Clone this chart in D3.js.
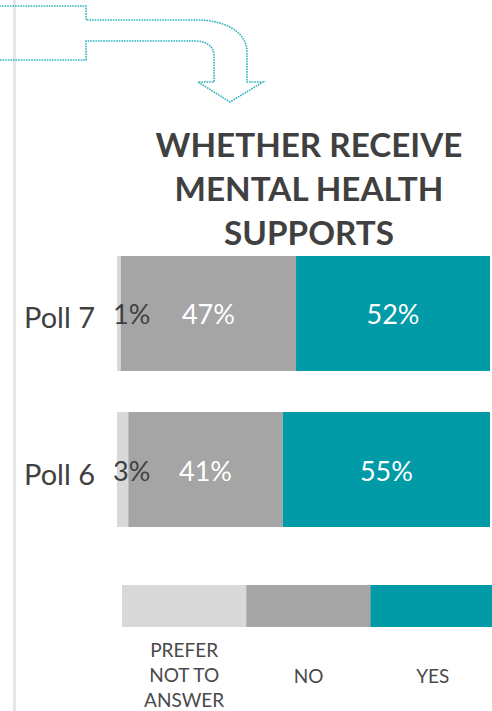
<!DOCTYPE html>
<html>
<head>
<meta charset="utf-8">
<script src="https://cdn.jsdelivr.net/npm/d3@7"></script>
<style>
  html, body { margin: 0; padding: 0; background: #fff; overflow: hidden; }
  svg { display: block; font-family: "Source Sans Pro", "Lato", "Noto Sans", sans-serif; }
</style>
</head>
<body>
<svg id="chart" width="492" height="711"></svg>
<script>
// Survey responses per poll (percent)
const polls = ["Poll 7", "Poll 6"];
const preferNot = [1, 3];
const no = [47, 41];
const yes = [52, 55];
const categories = ["PREFER NOT TO ANSWER", "NO", "YES"];
const keys = ["preferNot", "no", "yes"];
const colors = ["#d9d9d9", "#a5a5a5", "#019aa7"];
const titleLines = ["WHETHER RECEIVE", "MENTAL HEALTH", "SUPPORTS"];

const svg = d3.select("#chart");
const W = 492, H = 711;

// left rule
svg.append("rect").attr("x", 13).attr("y", 0).attr("width", 3).attr("height", H).attr("fill", "#e6e6e6");

// dotted flow arrow
const arrowPath = d3.path();
arrowPath.moveTo(0, 60);
arrowPath.lineTo(86, 60);
arrowPath.lineTo(86, 41);
arrowPath.lineTo(195, 41);
arrowPath.bezierCurveTo(206, 41, 214, 46, 214, 56);
arrowPath.lineTo(214, 82);
arrowPath.lineTo(198, 82);
arrowPath.lineTo(230, 102);
arrowPath.lineTo(263, 82);
arrowPath.lineTo(247, 82);
arrowPath.lineTo(247, 52);
arrowPath.bezierCurveTo(247, 32, 225, 20, 197, 20);
arrowPath.lineTo(86, 20);
arrowPath.lineTo(86, 6);
arrowPath.lineTo(0, 6);
svg.append("path")
  .attr("d", arrowPath.toString())
  .attr("fill", "none")
  .attr("stroke", "#2fb2bc")
  .attr("stroke-width", 1.6)
  .attr("stroke-dasharray", "1.6,1");

// title
const title = svg.append("text")
  .attr("text-anchor", "middle")
  .attr("fill", "#404040")
  .attr("font-weight", 700)
  .attr("font-size", 37);
title.selectAll("tspan").data(titleLines).join("tspan")
  .attr("x", 309)
  .attr("y", (d, i) => 157 + i * 44)
  .text(d => d);
// fit first line to its width
const t0 = title.select("tspan").node().getComputedTextLength();
title.attr("font-size", 37 * 307 / t0);

// stacked data
const rows = polls.map((p, i) => ({ poll: p, preferNot: preferNot[i], no: no[i], yes: yes[i] }));
const series = d3.stack().keys(keys).offset(d3.stackOffsetExpand)(rows);

const x = d3.scaleLinear().domain([0, 1]).range([117, 490]);
const y = d3.scaleBand().domain(polls).range([256, 527]).paddingInner(0.263);

const groups = svg.append("g").selectAll("g").data(series).join("g")
  .attr("fill", (d, i) => colors[i]);
groups.selectAll("rect").data(d => d).join("rect")
  .attr("x", d => x(d[0]))
  .attr("y", d => y(d.data.poll))
  .attr("width", d => x(d[1]) - x(d[0]))
  .attr("height", y.bandwidth());

// value labels
series.forEach((s, si) => {
  s.forEach(d => {
    const v = d.data[keys[si]];
    const small = si === 0;
    svg.append("text")
      .attr("x", small ? x(d[0]) - 4 : (x(d[0]) + x(d[1])) / 2)
      .attr("y", y(d.data.poll) + y.bandwidth() / 2 + 11)
      .attr("text-anchor", small ? "start" : "middle")
      .attr("fill", small ? "#404040" : "#ffffff")
      .attr("font-size", 27)
      .text(v + "%");
  });
});

// poll labels
svg.append("g").selectAll("text").data(polls).join("text")
  .attr("x", 24)
  .attr("y", d => y(d) + y.bandwidth() / 2 + 15)
  .attr("fill", "#404040")
  .attr("font-size", 29)
  .text(d => d);

// legend
const lx = d3.scaleBand().domain(categories).range([122, 495]);
svg.append("g").selectAll("rect").data(categories).join("rect")
  .attr("x", d => lx(d))
  .attr("y", 585)
  .attr("width", lx.bandwidth() + 0.5)
  .attr("height", 42)
  .attr("fill", (d, i) => colors[i]);

const legendLines = { "PREFER NOT TO ANSWER": ["PREFER", "NOT TO", "ANSWER"], "NO": ["NO"], "YES": ["YES"] };
const lt = svg.append("g").selectAll("text").data(categories).join("text")
  .attr("text-anchor", "middle")
  .attr("fill", "#4a4a4a")
  .attr("font-size", 19);
lt.each(function(d) {
  const lines = legendLines[d];
  const base = lines.length === 1 ? 683 : 657;
  d3.select(this).selectAll("tspan").data(lines).join("tspan")
    .attr("x", lx(d) + lx.bandwidth() / 2)
    .attr("y", (l, i) => base + i * 25)
    .text(l => l);
});
</script>
</body>
</html>
